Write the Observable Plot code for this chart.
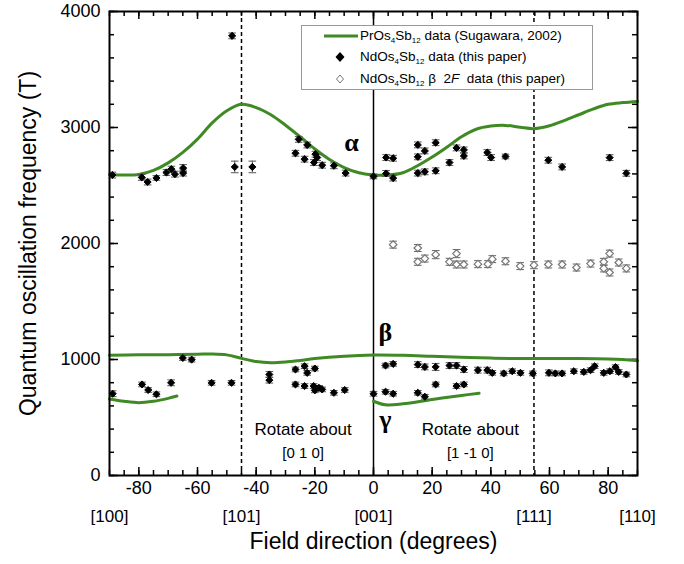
<!DOCTYPE html>
<html>
<head>
<meta charset="utf-8">
<script src="https://cdn.jsdelivr.net/npm/d3@7"></script>
<script src="https://cdn.jsdelivr.net/npm/@observablehq/plot@0.6"></script>
<style>
  body { margin: 0; background: #fff; }
  #wrap { position: relative; width: 684px; height: 564px; font-family: "Liberation Sans", Arial, sans-serif; }
  #legend { position: absolute; left: 301px; top: 25px; width: 292px; height: 65px; border: 1px solid #999; background: #fff; font-size: 13.5px; color: #000; box-sizing: border-box; }
  .row { position: absolute; left: 0; height: 20px; line-height: 20px; white-space: nowrap; }
  .row .txt { position: absolute; left: 58px; }
  sub { font-size: 8px; vertical-align: -3px; line-height: 0; }
</style>
</head>
<body>
<div id="wrap"></div>
<script>
// ---- Data: NdOs4Sb12 (closed diamonds) ----
const closedDeg = [-89,-79,-77,-74,-70.6,-68.9,-67.7,-64.9,-64.9,-48.2,-47.3,-41.3,-25.5,-22.6,-26.6,-23.5,-19.8,-19.2,-20.3,-17.5,-13.5,-9.5,0,
  4.3,6.7,4.3,6.7,15.1,15.1,17.5,15.1,17.5,21.2,21.2,25.9,28.3,30.8,30.8,38.8,40.1,45,59.6,64.3,80.5,86.2,
  -88.9,-65,-62,-78.9,-76.8,-74,-69,-55.2,-48.4,-35.5,-35.5,-26.6,-23.5,-22.6,-20,-26.6,-23.5,-20.4,-20,-18.6,-17.5,-13.5,-9.8,0,
  4.1,6.7,4.1,6.7,15.1,17.5,21.2,25.9,28.3,30.8,35.6,38.8,40.5,44.4,47.3,50.1,54.3,59.8,62,64.3,68.3,71.7,74,75.4,78.5,80.6,82.5,83.6,86.2,
  15.1,17.5,21.2,28.3,30.8];
const closedF = [2590,2570,2530,2565,2612,2641,2598,2650,2607,3790,2660,2660,2898,2849,2778,2727,2770,2741,2698,2675,2670,2607,2578,
  2741,2735,2604,2564,2850,2747,2798,2607,2618,2869,2627,2698,2824,2807,2755,2784,2741,2750,2718,2660,2740,2605,
  705,1013,999,785,737,700,799,799,799,871,822,914,942,885,922,785,771,771,734,756,742,713,737,705,
  948,962,722,705,956,936,936,948,948,914,908,908,885,880,899,885,880,885,880,880,899,893,908,942,885,899,934,893,871,
  713,679,785,771,785];
const closedErr = [25,25,25,20,25,25,25,30,25,25,50,50,25,25,25,25,25,25,25,25,25,25,20,
  25,25,25,25,25,25,25,25,25,25,25,25,25,25,25,25,25,20,25,25,25,25,
  25,20,20,20,20,20,25,20,20,25,25,20,20,20,20,20,20,20,20,20,20,20,20,20,
  20,20,20,20,25,25,30,25,25,25,25,25,20,20,20,20,20,25,20,20,20,20,20,20,20,20,20,20,20,
  20,20,20,20,20];

// ---- Data: NdOs4Sb12 beta 2F (open diamonds) ----
const openDeg = [6.7,15.1,15.1,17.5,21.2,25.9,28.3,28.3,30.8,35.6,39,40.5,45,50,54.7,59.6,64.3,69.2,74,78.5,78.5,80.5,80.5,83.6,86.2];
const openF = [1990,1961,1842,1870,1904,1842,1913,1819,1819,1822,1822,1865,1847,1805,1813,1819,1819,1793,1827,1842,1785,1913,1750,1836,1785];
const openErr = [30,30,30,30,35,30,35,30,30,30,30,30,30,30,30,30,30,30,30,30,30,30,30,30,30];

// ---- Data: PrOs4Sb12 (Sugawara, 2002) green curves ----
const prAlphaLDeg = [-90,-85,-80,-75,-70,-65,-60,-55,-50,-45,-40,-35,-30,-25,-20,-15,-10,-5,0];
const prAlphaLF   = [2595,2590,2595,2630,2695,2785,2900,3040,3145,3200,3172,3110,3020,2920,2815,2725,2655,2610,2590];
const prAlphaRDeg = [0,5,10,15,20,25,30,35,40,45,50,54.7,60,65,70,75,80,85,90];
const prAlphaRF   = [2590,2590,2610,2670,2745,2830,2920,2985,3012,3018,3002,2990,3015,3060,3110,3160,3200,3215,3225];
const prBetaDeg = [-90,-80,-70,-60,-55,-50,-45,-40,-35,-30,-25,-20,-10,0,10,20,30,40,50,60,70,80,85,90];
const prBetaF   = [1036,1040,1042,1046,1048,1040,1010,982,972,978,992,1008,1028,1038,1036,1028,1020,1012,1008,1008,1008,1005,1000,990];
const prGammaLDeg = [-90,-85,-80,-75,-70,-67];
const prGammaLF   = [660,640,628,640,665,685];
const prGammaRDeg = [0,4,10,20,30,36];
const prGammaRF   = [640,610,618,655,690,710];

// ---- Labels / ticks ----
const yMajor = [0,1000,2000,3000,4000];
const yMinor = d3.range(0, 4001, 200);
const xMajor = [-80,-60,-40,-20,0,20,40,60,80];
const xMinor = d3.range(-90, 91, 5);
const dirDeg = [-90,-45,0,54.7,90];
const dirLabel = ["[100]","[101]","[001]","[111]","[110]"];
const dashedDeg = [-45,54.7];
const greek = [{x:-7.5,y:2870,t:"α"},{x:4,y:1230,t:"β"},{x:4,y:480,t:"γ"}];
const rotateNotes = [{x:-24,y:395,t:"Rotate about",s:17},{x:-24,y:195,t:"[0 1 0]",s:15},{x:33,y:395,t:"Rotate about",s:17},{x:33,y:195,t:"[1 -1 0]",s:15}];

const closed = closedDeg.map((x,i)=>({x, y: closedF[i], e: closedErr[i]}));
const open = openDeg.map((x,i)=>({x, y: openF[i], e: openErr[i]}));
const toPts = (xs, ys) => xs.map((x,i)=>({x, y: ys[i]}));
const curves = [toPts(prAlphaLDeg, prAlphaLF), toPts(prAlphaRDeg, prAlphaRF), toPts(prBetaDeg, prBetaF), toPts(prGammaLDeg, prGammaLF), toPts(prGammaRDeg, prGammaRF)];
const green = "#3f8a24";
const capW = 1.3;

// plot geometry (px per unit) used for inward tick lengths
const W = 684, H = 564, mL = 109, mR = 47, mT = 11, mB = 89;
const degPerPx = 180 / (W - mL - mR);
const fPerPx = 4000 / (H - mT - mB);

function errorMarks(data, color) {
  return [
    Plot.ruleX(data, {x: "x", y1: d => d.y - d.e, y2: d => d.y + d.e, stroke: color, strokeWidth: 1}),
    Plot.link(data, {x1: d => d.x - capW, x2: d => d.x + capW, y1: d => d.y + d.e, y2: d => d.y + d.e, stroke: color, strokeWidth: 1}),
    Plot.link(data, {x1: d => d.x - capW, x2: d => d.x + capW, y1: d => d.y - d.e, y2: d => d.y - d.e, stroke: color, strokeWidth: 1})
  ];
}
function yTicks(vals, len) {
  const d = len * degPerPx;
  return [
    Plot.ruleY(vals, {y: v => v, x1: -90, x2: -90 + d, stroke: "#000", strokeWidth: 1.5}),
    Plot.ruleY(vals, {y: v => v, x1: 90 - d, x2: 90, stroke: "#000", strokeWidth: 1.5})
  ];
}
function xTicks(vals, len) {
  const d = len * fPerPx;
  return [
    Plot.ruleX(vals, {x: v => v, y1: 0, y2: d, stroke: "#000", strokeWidth: 1.5}),
    Plot.ruleX(vals, {x: v => v, y1: 4000 - d, y2: 4000, stroke: "#000", strokeWidth: 1.5})
  ];
}

const chart = Plot.plot({
  width: W, height: H,
  marginLeft: mL, marginRight: mR, marginTop: mT, marginBottom: mB,
  style: {fontFamily: "'Liberation Sans', Arial, sans-serif", fontSize: "18px", color: "#000", background: "#fff"},
  x: {domain: [-90, 90], label: null},
  y: {domain: [0, 4000], label: null},
  marks: [
    ...yTicks(yMinor, 5), ...yTicks(yMajor, 9),
    ...xTicks(xMinor, 5), ...xTicks(xMajor, 8),
    Plot.axisY({ticks: yMajor, tickSize: 0, tickPadding: 9, fontSize: 18, tickFormat: d => String(d), label: null}),
    Plot.axisX({ticks: xMajor, tickSize: 0, tickPadding: 6, fontSize: 18, tickFormat: d => String(d), label: null}),
    // reference lines
    Plot.ruleX(dashedDeg, {stroke: "#000", strokeWidth: 1.5, strokeDasharray: "4,3"}),
    Plot.ruleX([0], {stroke: "#000", strokeWidth: 1.5}),
    // PrOs4Sb12 curves
    ...curves.map(c => Plot.line(c, {x: "x", y: "y", stroke: green, strokeWidth: 3, curve: "catmull-rom"})),
    // open diamonds
    ...errorMarks(open, "#666"),
    Plot.dot(open, {x: "x", y: "y", symbol: "diamond2", r: 3.4, fill: "#fff", stroke: "#777", strokeWidth: 1.2}),
    // closed diamonds
    ...errorMarks(closed, "#555"),
    Plot.dot(closed, {x: "x", y: "y", symbol: "diamond2", r: 3.2, fill: "#000", stroke: "#000", strokeWidth: 1}),
    // text annotations
    Plot.text(greek, {x: "x", y: "y", text: "t", fontSize: 26, fontFamily: "'Liberation Serif', 'DejaVu Serif', serif", fontWeight: "bold"}),
    Plot.text(rotateNotes, {x: "x", y: "y", text: "t", fontSize: "s"}),
    Plot.text(dirDeg.map((x,i)=>({x, t: dirLabel[i]})), {x: "x", text: "t", frameAnchor: "bottom", dy: 46, fontSize: 17}),
    Plot.text(["Field direction (degrees)"], {frameAnchor: "bottom", dy: 73, fontSize: 23}),
    Plot.text(["Quantum oscillation frequency (T)"], {frameAnchor: "left", textAnchor: "middle", dx: -81, rotate: -90, fontSize: 23}),
    Plot.frame({stroke: "#000", strokeWidth: 2})
  ]
});

const wrap = document.getElementById("wrap");
wrap.appendChild(chart);
const legend = document.createElement("div");
legend.id = "legend";
legend.innerHTML = `
  <div class="row" style="top:0px;width:100%">
    <svg width="60" height="20" style="position:absolute;left:0;top:0"><line x1="22" x2="56" y1="10" y2="10" stroke="${green}" stroke-width="3"/></svg>
    <span class="txt">PrOs<sub>4</sub>Sb<sub>12</sub> data (Sugawara, 2002)</span></div>
  <div class="row" style="top:21px;width:100%">
    <svg width="60" height="20" style="position:absolute;left:0;top:0"><path d="M38,5 L42.5,10 L38,15 L33.5,10 Z" fill="#000"/></svg>
    <span class="txt">NdOs<sub>4</sub>Sb<sub>12</sub> data (this paper)</span></div>
  <div class="row" style="top:43px;width:100%">
    <svg width="60" height="20" style="position:absolute;left:0;top:0"><path d="M38,6 L41.5,10 L38,14 L34.5,10 Z" fill="#fff" stroke="#777" stroke-width="1"/></svg>
    <span class="txt">NdOs<sub>4</sub>Sb<sub>12</sub> β&nbsp; 2<i>F</i>&nbsp; data (this paper)</span></div>`;
wrap.appendChild(legend);
</script>
</body>
</html>
